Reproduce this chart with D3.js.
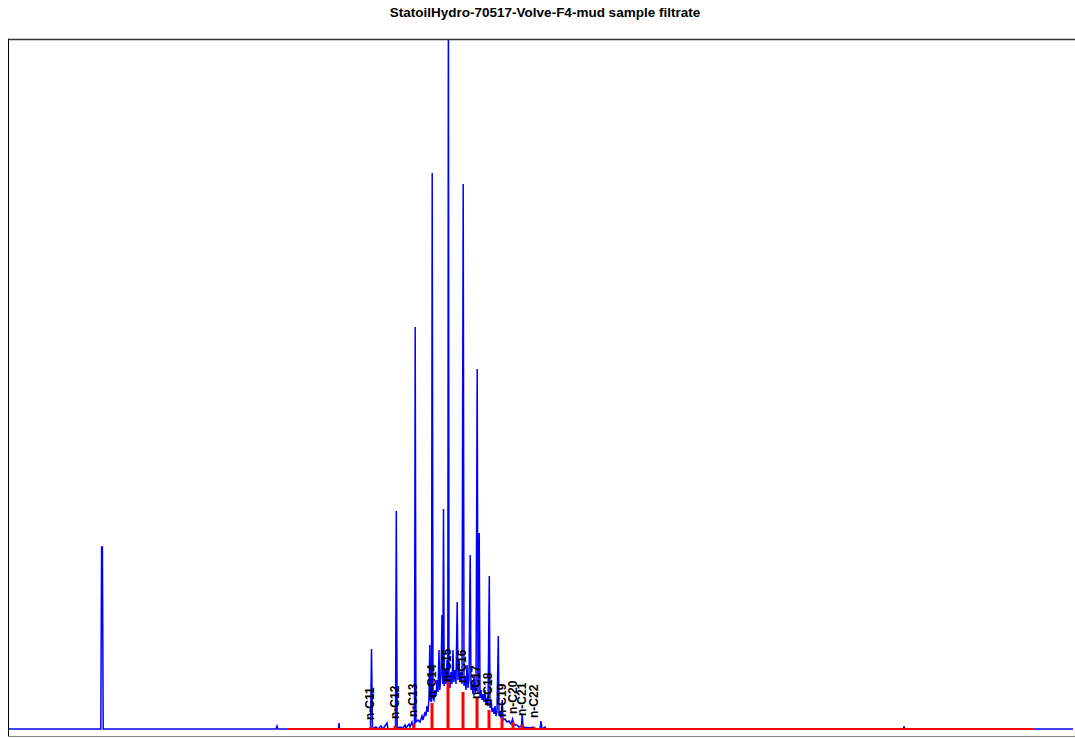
<!DOCTYPE html>
<html>
<head>
<meta charset="utf-8">
<script src="https://cdn.jsdelivr.net/npm/d3@7"></script>
<style>
  body { margin: 0; background: #fff; }
  svg { display: block; }
  text { font-family: "Liberation Sans", Arial, sans-serif; font-weight: bold; fill: #000; }
</style>
</head>
<body>
<div id="chart"></div>
<script>
// retention time (min) and detector signal of the FID trace
var traceTime = [0, 4.60, 4.64, 4.68, 4.72, 4.76, 13.4, 13.45, 13.5, 16.525, 16.55, 16.575,
  17.85, 18.125, 18.175, 18.225, 18.4, 18.5, 18.65, 18.75, 18.95, 19.0, 19.375, 19.415, 19.46,
  19.6, 19.75, 19.85, 19.9, 20.05, 20.1, 20.2, 20.25, 20.325, 20.36, 20.4, 20.5, 20.6, 20.7,
  20.75, 20.85, 20.9, 20.95, 21.0, 21.05, 21.09, 21.125, 21.175, 21.21, 21.25, 21.3, 21.35,
  21.4, 21.45, 21.5, 21.55, 21.59, 21.65, 21.7, 21.74, 21.775, 21.81, 21.85, 21.9, 21.95,
  21.99, 22.02, 22.05, 22.1, 22.15, 22.2, 22.25, 22.29, 22.35, 22.4, 22.46, 22.5, 22.55, 22.6,
  22.65, 22.7, 22.76, 22.8, 22.85, 22.9, 22.95, 23.0, 23.05, 23.11, 23.15, 23.2, 23.25, 23.3,
  23.35, 23.4, 23.46, 23.5, 23.56, 23.6, 23.65, 23.7, 23.75, 23.8, 23.85, 23.9, 23.95, 24.0,
  24.065, 24.1, 24.15, 24.2, 24.25, 24.3, 24.35, 24.4, 24.45, 24.515, 24.55, 24.6, 24.65,
  24.71, 24.75, 24.85, 24.95, 25.05, 25.15, 25.225, 25.3, 25.45, 25.55, 25.675, 25.71, 25.75,
  26.1, 26.25, 26.35, 26.6, 26.65, 26.7, 26.85, 26.9, 44.75, 44.8, 44.85, 53.25];
var traceSignal = [0, 0, 0, 18200, 18200, 0, 0, 300, 0, 0, 600, 0,
  0, 0, 8000, 0, 200, 0, 300, 0, 600, 0, 0, 21800, 100,
  200, 100, 400, 100, 500, 200, 700, 300, 500, 40200, 700, 900, 700, 1300,
  900, 1700, 1300, 2300, 1700, 3100, 8400, 2900, 2700, 55600, 3100, 2900, 3900,
  3300, 4900, 3700, 7900, 3900, 5400, 11400, 4500, 22000, 4300, 5900, 4500, 6900,
  4500, 75000, 4900, 4100, 5700, 4500, 7900, 4700, 5900, 4500, 12700, 4900, 6900, 4700,
  5700, 4500, 54500, 4300, 5300, 3900, 6400, 4100, 4900, 17400, 3900, 4500, 3500, 5300,
  3700, 3900, 36000, 3500, 19600, 3100, 3900, 2900, 3500, 2700, 3900, 2500, 3100, 2300,
  15300, 2100, 2900, 1700, 2100, 1500, 2300, 1300, 1700, 9300, 1300, 1500, 1100,
  2900, 900, 1000, 700, 800, 500, 1000, 400, 400, 200, 300, 1500, 200,
  100, 200, 0, 0, 800, 0, 200, 0, 0, 200, 0, 0];

// n-alkane identification
var alkaneNames = ["n-C11", "n-C12", "n-C13", "n-C14", "n-C15", "n-C16",
  "n-C17", "n-C18", "n-C19", "n-C20", "n-C21", "n-C22"];
var alkaneTime = [18.15, 19.35, 20.3, 21.2, 22.0, 22.75, 23.45, 24.05, 24.7, 25.25, 25.7, 26.3];
var alkaneArea = [200, 300, 500, 2600, 4700, 3700, 3200, 1900, 1100, 700, 400, 200];
var labelTime = [18.1, 19.35, 20.25, 21.2, 21.95, 22.7, 23.4, 24.0, 24.7, 25.25, 25.7, 26.3];
var labelLevel = [900, 1000, 1200, 3100, 4700, 4600, 3000, 2300, 1200, 1500, 1300, 1100];

// integration window (red baseline)
var baseStart = 13.95, baseEnd = 51.25;

var title = "StatoilHydro-70517-Volve-F4-mud sample filtrate";

var width = 1075, height = 738;

var svg = d3.select('#chart').append('svg')
  .attr('width', width)
  .attr('height', height);

svg.append('rect')
  .attr('width', width)
  .attr('height', height)
  .attr('fill', 'white');

var x = d3.scaleLinear().domain([0, 53.25]).range([8, 1073]);
var y = d3.scaleLinear().domain([0, 69000]).range([729, 39]);

svg.append('clipPath').attr('id', 'plotclip')
  .append('rect')
  .attr('x', 8).attr('y', 39)
  .attr('width', 1067).attr('height', 698);

var trace = traceTime.map(function (t, i) { return [t, traceSignal[i]]; });

var line = d3.line()
  .x(function (d) { return x(d[0]); })
  .y(function (d) { return y(d[1]); });

// blue chromatogram
svg.append('path')
  .datum(trace)
  .attr('clip-path', 'url(#plotclip)')
  .attr('d', line)
  .attr('fill', 'none')
  .attr('stroke', '#0000ff')
  .attr('stroke-width', 1.5)
  .attr('stroke-linejoin', 'miter');

// red baseline + alkane bars
svg.append('line')
  .attr('x1', x(baseStart)).attr('x2', x(baseEnd))
  .attr('y1', y(0)).attr('y2', y(0))
  .attr('stroke', '#ff0000')
  .attr('stroke-width', 2.2);

svg.append('g').selectAll('rect')
  .data(alkaneTime)
  .enter().append('rect')
  .attr('x', function (d) { return x(d) - 1.5; })
  .attr('y', function (d, i) { return y(alkaneArea[i]); })
  .attr('width', 3)
  .attr('height', function (d, i) { return y(0) - y(alkaneArea[i]); })
  .attr('fill', '#ff0000');

// labels
svg.append('g').selectAll('text')
  .data(alkaneNames)
  .enter().append('text')
  .attr('transform', function (d, i) {
    return 'translate(' + x(labelTime[i]) + ',' + y(labelLevel[i]) + ') rotate(-90)';
  })
  .attr('dy', '0.36em')
  .style('font-size', '12px')
  .text(function (d) { return d; });

// frame
svg.append('line')
  .attr('x1', 8).attr('x2', 1075)
  .attr('y1', 39.5).attr('y2', 39.5)
  .attr('stroke', '#333').attr('stroke-width', 1.5);
svg.append('line')
  .attr('x1', 8.5).attr('x2', 8.5)
  .attr('y1', 39).attr('y2', 737)
  .attr('stroke', '#000').attr('stroke-width', 1);
svg.append('line')
  .attr('x1', 8).attr('x2', 1075)
  .attr('y1', 736.5).attr('y2', 736.5)
  .attr('stroke', '#888').attr('stroke-width', 1);

svg.append('text')
  .attr('x', 545)
  .attr('y', 17)
  .attr('text-anchor', 'middle')
  .style('font-size', '13.5px')
  .text(title);
</script>
</body>
</html>
